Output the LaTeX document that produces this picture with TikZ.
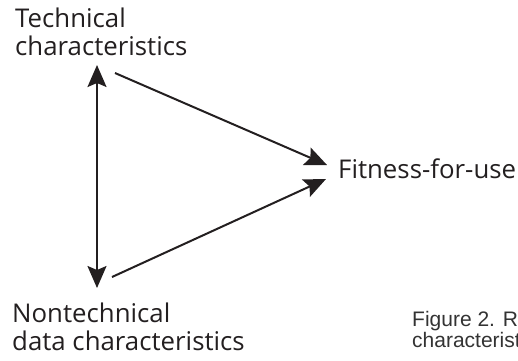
\documentclass[tikz,border=0pt]{standalone}
\usepackage{fontspec}
\setmainfont{Open Sans}
\newfontfamily\capfont{Liberation Sans}
\usetikzlibrary{arrows.meta}
\definecolor{ink}{HTML}{231F20}
\definecolor{capink}{HTML}{333333}
\tikzset{
  lbl/.style={anchor=base west, inner sep=0pt, text=ink, align=left,
    font=\fontsize{25.8}{28}\selectfont},
  caplbl/.style={anchor=base west, inner sep=0pt, text=capink, align=left,
    font=\capfont\fontsize{21}{15}\selectfont},
  conn/.style={line width=2pt, draw=ink,
    -{Stealth[length=22pt,width=19pt,inset=4pt]}},
  biconn/.style={line width=2pt, draw=ink,
    {Stealth[length=22pt,width=19pt,inset=4pt]}-{Stealth[length=22pt,width=19pt,inset=4pt]}}
}
\begin{document}
\begin{tikzpicture}[x=1pt,y=-1pt]
\useasboundingbox (0,0) rectangle (518,360);
\clip (0,0) rectangle (518,360);
\node[lbl] (tech) at (15,55) {Technical\\characteristics};
\node[lbl] (fit) at (338,178) {Fitness-for-use};
\node[lbl] (nontech) at (12,350) {Nontechnical\\data characteristics};
\node[caplbl] (cap) at (412,347) {Figure 2. Re\\characteristics};
\coordinate (vt) at (97,65);
\coordinate (vb) at (97,288);
\coordinate (ts) at (115,73);
\coordinate (tt) at (327,165);
\coordinate (bs) at (112,277);
\coordinate (bt) at (326,179);
\draw[biconn] (vb) -- (vt);
\draw[conn] (ts) -- (tt);
\draw[conn] (bs) -- (bt);
\end{tikzpicture}
\end{document}
